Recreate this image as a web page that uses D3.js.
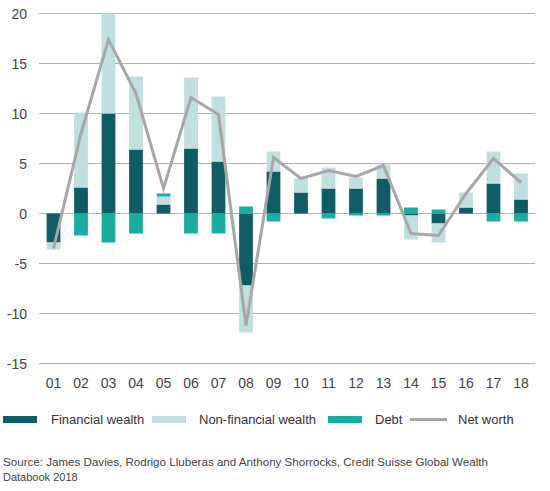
<!DOCTYPE html>
<html>
<head>
<meta charset="utf-8">
<script src="https://cdn.jsdelivr.net/npm/d3@7"></script>
<style>
  body { margin: 0; background: #fff; }
  svg { font-family: "Liberation Sans", Arial, sans-serif; }
</style>
</head>
<body>
<script>
// years on the x axis
var years = ["01","02","03","04","05","06","07","08","09","10","11","12","13","14","15","16","17","18"];

// contributions to growth (%)
var financial    = [-2.9, 2.6, 10.0, 6.4, 0.9, 6.5, 5.2, -7.2, 4.2, 2.1, 2.5, 2.5, 3.5, -0.2, -1.0, 0.6, 3.0, 1.4];
var nonFinancial = [-0.7, 7.5, 10.0, 7.3, 0.8, 7.1, 6.5, -4.7, 2.0, 1.4, 2.1, 1.1, 1.4, -2.4, -1.9, 1.5, 3.2, 2.6];
var debt         = [0.0, -2.2, -2.9, -2.0, 0.3, -2.0, -2.0, 0.7, -0.8, 0.0, -0.5, -0.2, -0.2, 0.6, 0.4, 0.0, -0.8, -0.8];
var netWorth     = [-3.5, 8.0, 17.4, 12.0, 2.5, 11.6, 9.9, -11.2, 5.6, 3.5, 4.3, 3.7, 4.8, -2.0, -2.2, 2.0, 5.5, 3.1];

var yTicks = [-15, -10, -5, 0, 5, 10, 15, 20];

var seriesNames = ["Financial wealth", "Non-financial wealth", "Debt", "Net worth"];
var colors = { financial: "#0d5c66", nonFinancial: "#bfe0df", debt: "#17ada2", net: "#a7a7a7" };

var svgWidth = 550, svgHeight = 491;

var svg = d3.select("body")
  .append("svg")
  .attr("width", svgWidth)
  .attr("height", svgHeight);

// scales
var x = d3.scaleBand()
  .domain(years)
  .range([39.75, 534.75])
  .paddingInner(0.5)
  .paddingOuter(0.25);

var y = d3.scaleLinear()
  .domain([-15, 20])
  .range([363.5, 13.5]);

// gridlines
svg.append("g")
  .selectAll("line")
  .data(yTicks)
  .enter()
  .append("line")
  .attr("x1", 39)
  .attr("x2", 535)
  .attr("y1", d => y(d))
  .attr("y2", d => y(d))
  .attr("stroke", "#b3b3b3")
  .attr("stroke-width", 1);

// y axis labels
svg.append("g")
  .selectAll("text")
  .data(yTicks)
  .enter()
  .append("text")
  .attr("x", 27)
  .attr("y", d => y(d))
  .attr("dy", "0.36em")
  .attr("text-anchor", "end")
  .attr("font-size", 14)
  .attr("fill", "#444")
  .text(d => d);

// x axis labels
svg.append("g")
  .selectAll("text")
  .data(years)
  .enter()
  .append("text")
  .attr("x", d => x(d) + x.bandwidth() / 2)
  .attr("y", 388)
  .attr("text-anchor", "middle")
  .attr("font-size", 14)
  .attr("fill", "#444")
  .text(d => d);

// stacked bars
var rows = years.map(function(yr, i) {
  return { year: yr, financial: financial[i], nonFinancial: nonFinancial[i], debt: debt[i] };
});

var stack = d3.stack()
  .keys(["financial", "nonFinancial", "debt"])
  .offset(d3.stackOffsetDiverging);

var layers = stack(rows);

svg.append("g")
  .selectAll("g")
  .data(layers)
  .enter()
  .append("g")
  .attr("fill", d => colors[d.key])
  .selectAll("rect")
  .data(d => d)
  .enter()
  .append("rect")
  .attr("x", d => x(d.data.year))
  .attr("width", x.bandwidth())
  .attr("y", d => y(Math.max(d[0], d[1])))
  .attr("height", d => Math.abs(y(d[0]) - y(d[1])));

// net worth line
var line = d3.line()
  .x((d, i) => x(years[i]) + x.bandwidth() / 2)
  .y(d => y(d));

svg.append("path")
  .datum(netWorth)
  .attr("d", line)
  .attr("fill", "none")
  .attr("stroke", colors.net)
  .attr("stroke-width", 3)
  .attr("stroke-linejoin", "miter");

// legend
var legend = [
  { name: seriesNames[0], color: colors.financial, x: 3, tx: 51, type: "rect" },
  { name: seriesNames[1], color: colors.nonFinancial, x: 152, tx: 199, type: "rect" },
  { name: seriesNames[2], color: colors.debt, x: 328, tx: 375, type: "rect" },
  { name: seriesNames[3], color: colors.net, x: 410, tx: 458, type: "line" }
];

var lg = svg.append("g");
legend.forEach(function(l) {
  if (l.type === "rect") {
    lg.append("rect")
      .attr("x", l.x).attr("y", 416)
      .attr("width", 34).attr("height", 7)
      .attr("fill", l.color);
  } else {
    lg.append("line")
      .attr("x1", l.x).attr("x2", l.x + 37)
      .attr("y1", 419.5).attr("y2", 419.5)
      .attr("stroke", l.color).attr("stroke-width", 3);
  }
  lg.append("text")
    .attr("x", l.tx).attr("y", 424)
    .attr("font-size", 13)
    .attr("fill", "#333")
    .text(l.name);
});

// source note
svg.append("text")
  .attr("x", 3).attr("y", 466)
  .attr("font-size", 11)
  .attr("fill", "#444")
  .attr("textLength", 485)
  .attr("lengthAdjust", "spacingAndGlyphs")
  .text("Source: James Davies, Rodrigo Lluberas and Anthony Shorrocks, Credit Suisse Global Wealth");

svg.append("text")
  .attr("x", 3).attr("y", 481)
  .attr("font-size", 11)
  .attr("fill", "#444")
  .text("Databook 2018");
</script>
</body>
</html>
